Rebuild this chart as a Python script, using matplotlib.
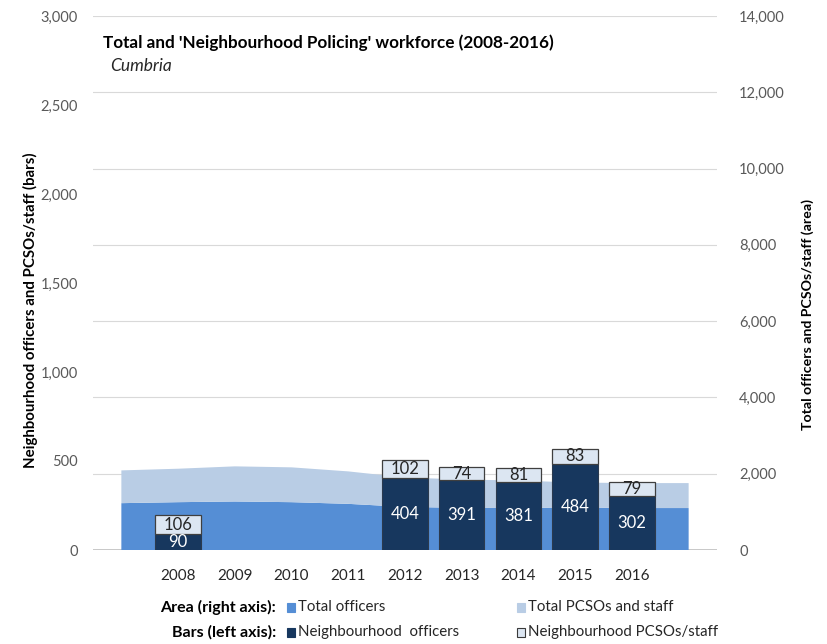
import matplotlib
matplotlib.use("Agg")
import matplotlib.pyplot as plt
from matplotlib.patches import Rectangle
import numpy as np

plt.rcParams['font.family'] = ['Lato', 'DejaVu Sans']

# Category axis: a blank slot either side of the years so the area runs past the bars
categories = ["", "2008", "2009", "2010", "2011", "2012", "2013", "2014", "2015", "2016", ""]

# Area series (right axis): total workforce
area_total_officers = [1228, 1254, 1272, 1254, 1210, 1130, 1105, 1100, 1120, 1100, 1100]
area_total_staff = [859, 877, 921, 913, 851, 770, 745, 720, 650, 654, 654]

# Bar series (left axis): neighbourhood policing (None = no figure published)
bar_nbh_officers = [None, 90, None, None, None, 404, 391, 381, 484, 302, None]
bar_nbh_staff = [None, 106, None, None, None, 102, 74, 81, 83, 79, None]

area_names = ["Total officers", "Total PCSOs and staff"]
bar_names = ["Neighbourhood  officers", "Neighbourhood PCSOs/staff"]

title = "Total and 'Neighbourhood Policing' workforce (2008-2016)"
subtitle = "Cumbria"
left_label = "Neighbourhood officers and PCSOs/staff (bars)"
right_label = "Total officers and PCSOs/staff (area)"

c_officers_area = "#558ED5"
c_staff_area = "#B9CDE5"
c_nbh_officers = "#17375E"
c_nbh_staff = "#DCE6F2"
c_text = "#595959"

W, H = 827, 644
fig = plt.figure(figsize=(W / 100, H / 100), dpi=100)

def fx(px):
    return px / W

def fy(py):
    return 1 - py / H

x = np.arange(len(categories))

# Area axis sits underneath; bar axis drawn on top of it
ax_area = fig.add_axes([fx(93), fy(550), fx(717) - fx(93), fy(16) - fy(550)])
ax_bar = ax_area.twinx()

ax_area.stackplot(x, area_total_officers, area_total_staff,
                  colors=[c_officers_area, c_staff_area], linewidth=0, zorder=2)
ax_area.set_ylim(0, 14000)
ax_area.set_yticks(np.arange(0, 14001, 2000))
ax_area.yaxis.tick_right()
ax_area.yaxis.set_label_position("right")
ax_area.set_yticklabels([f"{v:,}" for v in range(0, 14001, 2000)])
ax_area.grid(axis="y", color="#D9D9D9", linewidth=0.8, zorder=0)
ax_area.set_axisbelow(True)
ax_area.tick_params(axis="y", length=0, pad=16, labelsize=10.5, labelcolor=c_text)

ax_bar.yaxis.tick_left()
ax_bar.yaxis.set_label_position("left")
ax_bar.set_ylim(0, 3000)
ax_bar.set_yticks(np.arange(0, 3001, 500))
ax_bar.set_yticklabels([f"{v:,}" for v in range(0, 3001, 500)])
ax_bar.tick_params(axis="y", length=0, pad=11, labelsize=10.5, labelcolor=c_text)

idx = [i for i, v in enumerate(bar_nbh_officers) if v is not None]
off_vals = [bar_nbh_officers[i] for i in idx]
stf_vals = [bar_nbh_staff[i] for i in idx]

b1 = ax_bar.bar(idx, off_vals, width=0.8, color=c_nbh_officers,
                edgecolor="#2B3A4E", linewidth=0.8, zorder=3)
b2 = ax_bar.bar(idx, stf_vals, width=0.8, bottom=off_vals, color=c_nbh_staff,
                edgecolor="#3F3F3F", linewidth=0.9, zorder=3)
ax_bar.bar_label(b1, labels=[str(v) for v in off_vals], label_type="center",
                 color="white", fontsize=12)
ax_bar.bar_label(b2, labels=[str(v) for v in stf_vals], label_type="center",
                 color="#262626", fontsize=12)

for a in (ax_area, ax_bar):
    a.set_xlim(-0.5, len(categories) - 0.5)
    for s in a.spines.values():
        s.set_visible(False)

ax_area.set_xticks(x)
ax_area.set_xticklabels(categories)
ax_area.tick_params(axis="x", length=0, pad=14, labelsize=11, labelcolor="#262626")
ax_area.axhline(0, color="#BFBFBF", linewidth=1.2, zorder=1)

# Titles and axis captions
fig.text(fx(103), fy(43), title, fontsize=12.3, fontweight="bold", color="black",
         va="center", ha="left")
fig.text(fx(110), fy(66), subtitle, fontsize=12.5, style="italic", color="#262626",
         va="center", ha="left")
fig.text(fx(30), fy(310), left_label, rotation=90, fontsize=10.8, fontweight="bold",
         color="black", va="center", ha="center")
fig.text(fx(808), fy(315), right_label, rotation=90, fontsize=10.2, fontweight="bold",
         color="black", va="center", ha="center")

# Legend rows
rows = [("Area (right axis):", area_names, [c_officers_area, c_staff_area], [None, None], 607),
        ("Bars (left axis):", bar_names, [c_nbh_officers, c_nbh_staff], [c_nbh_officers, "#3A3A3A"], 632)]
for head, names, cols, edges, ypx in rows:
    fig.text(fx(276), fy(ypx), head, fontsize=11.5, fontweight="bold", color="black",
             ha="right", va="center")
    for (name, col, ec, x0) in zip(names, cols, edges, (287, 517)):
        fig.patches.append(Rectangle((fx(x0), fy(ypx + 4.5)), fx(8), 9 / H,
                                     transform=fig.transFigure, facecolor=col,
                                     edgecolor=ec if ec else col, linewidth=0.8))
        fig.text(fx(x0 + 11), fy(ypx), name, fontsize=10.8, color="#262626",
                 ha="left", va="center")

fig.savefig("out.png", dpi=100)
